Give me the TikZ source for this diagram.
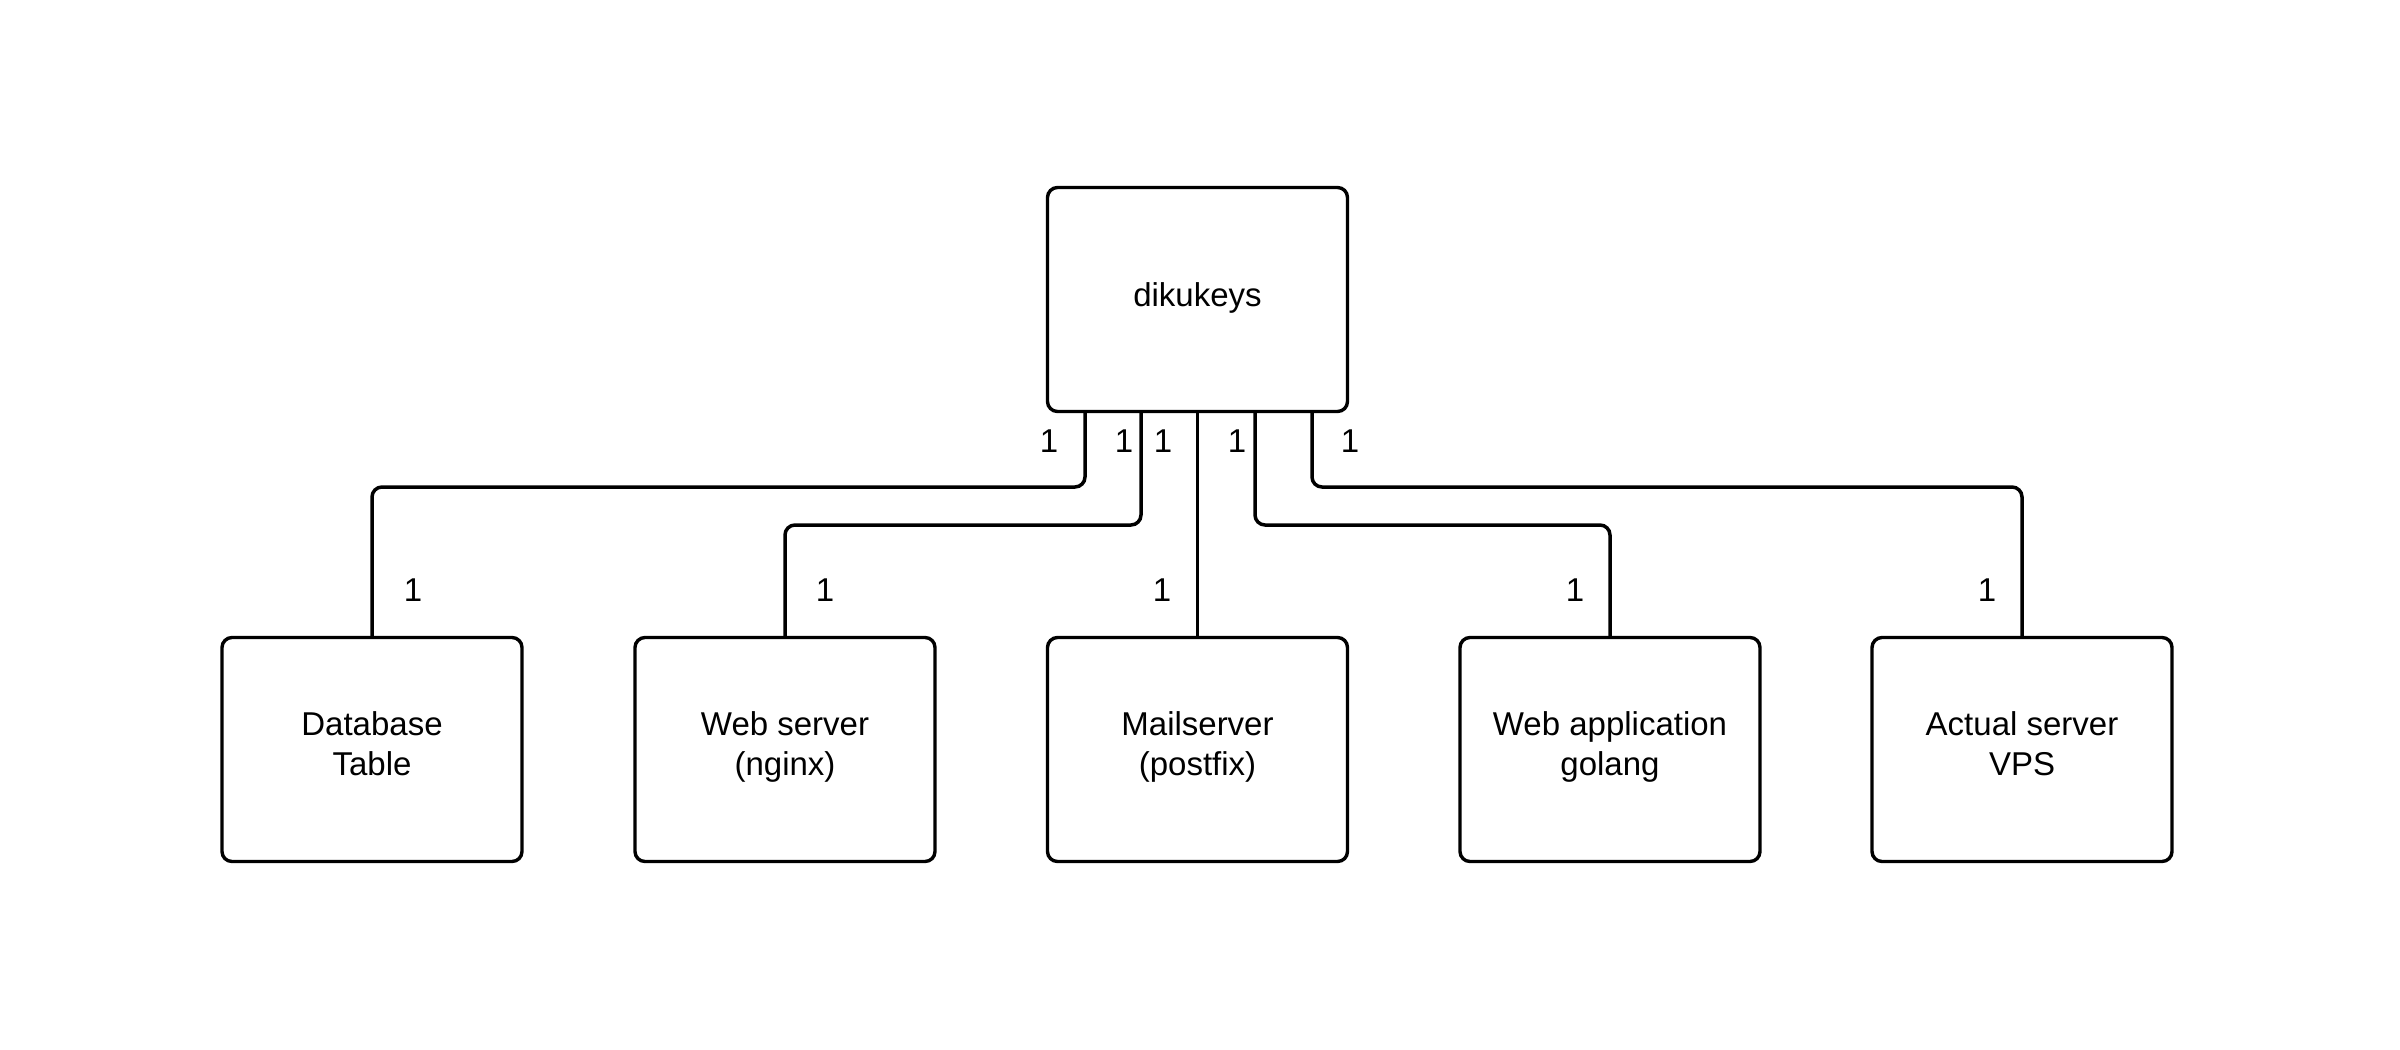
\documentclass[tikz,border=0pt]{standalone}
\usepackage{fontspec}
\setmainfont{Liberation Sans}
\begin{document}
\begin{tikzpicture}[x=0.5pt,y=-0.5pt,
  box/.style={draw=black,line width=1.7pt,rounded corners=5pt,minimum width=150pt,minimum height=112pt,align=center,font=\fontsize{16.5}{20}\selectfont,inner sep=0pt,text depth=6pt},
  topbox/.style={box,text depth=5pt},
  conn/.style={draw=black,line width=1.75pt,rounded corners=5pt},
  thinconn/.style={draw=black,line width=1.1pt},
  mult/.style={font=\fontsize{16.5}{20}\selectfont,anchor=base,inner sep=0pt}]
\useasboundingbox (0,0) rectangle (2400,1050);
\node[topbox] (top) at (1197.5,299.5) {dikukeys};
\node[box] (db) at (372,749.5) {Database\\Table};
\node[box] (web) at (785,749.5) {Web server\\(nginx)};
\node[box] (mail) at (1197.5,749.5) {Mailserver\\(postfix)};
\node[box] (app) at (1610,749.5) {Web application\\golang};
\node[box] (vps) at (2022,749.5) {Actual server\\VPS};
\coordinate (c1) at (1085,487);
\coordinate (c2) at (1141,525);
\coordinate (c4) at (1255,525);
\coordinate (c5) at (1312,487);
\draw[conn] (top.south -| c1) -- (c1) -- (c1 -| db.north) -- (db.north);
\draw[conn] (top.south -| c2) -- (c2) -- (c2 -| web.north) -- (web.north);
\draw[thinconn] (top.south) -- (mail.north);
\draw[conn] (top.south -| c4) -- (c4) -- (c4 -| app.north) -- (app.north);
\draw[conn] (top.south -| c5) -- (c5) -- (c5 -| vps.north) -- (vps.north);
\node[mult] (m1) at (1049,452) {1};
\node[mult] (m2) at (1124,452) {1};
\node[mult] (m3) at (1163,452) {1};
\node[mult] (m4) at (1237,452) {1};
\node[mult] (m5) at (1350,452) {1};
\node[mult] (n1) at (413,601) {1};
\node[mult] (n2) at (825,601) {1};
\node[mult] (n3) at (1162,601) {1};
\node[mult] (n4) at (1575,601) {1};
\node[mult] (n5) at (1987,601) {1};
\end{tikzpicture}
\end{document}
